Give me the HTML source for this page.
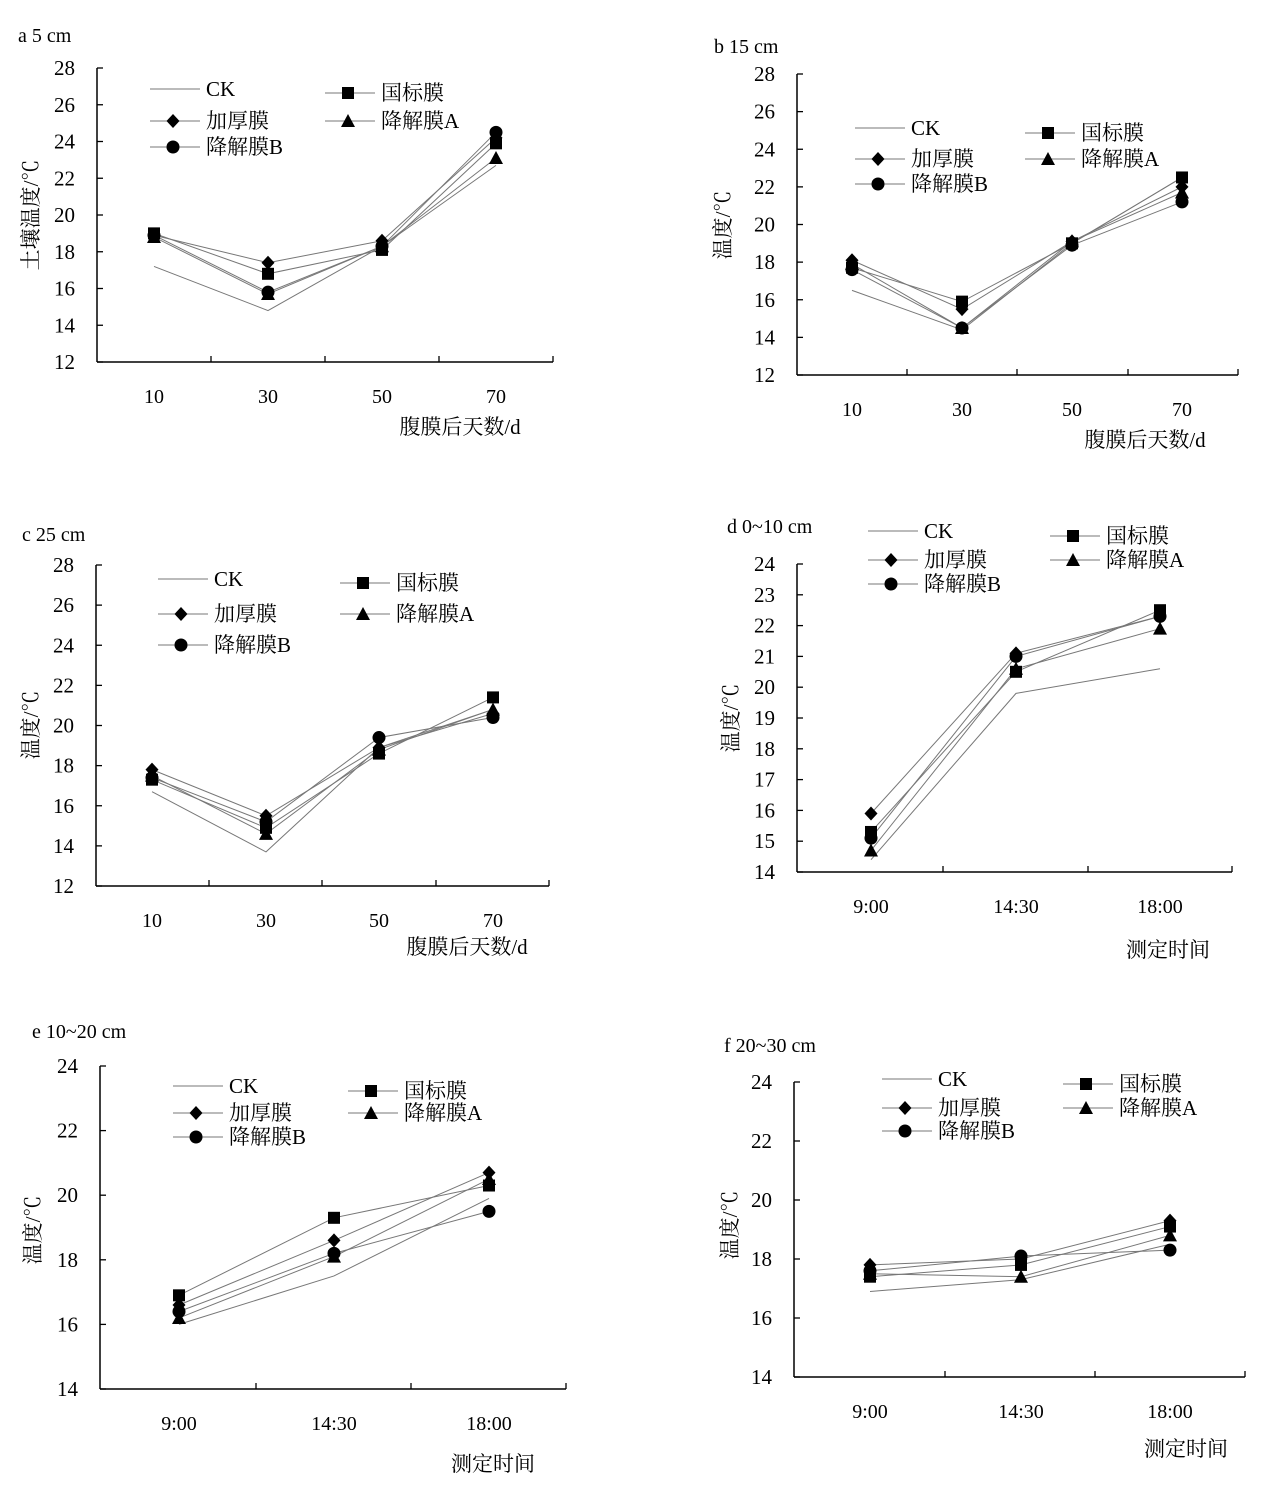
<!DOCTYPE html>
<html><head><meta charset="utf-8"><style>
body{margin:0;background:#fff}
svg{display:block;font-family:"Liberation Serif","Noto Serif CJK SC",serif}
</style></head><body>
<svg id="s" width="1270" height="1495" xmlns="http://www.w3.org/2000/svg"></svg>
<script>
const S=document.getElementById('s');let h='';
function t(x,y,s,sz,anchor,rot){h+=`<text x="${x}" y="${y}" font-size="${sz||19}" text-anchor="${anchor||'start'}"${rot?` transform="rotate(-90 ${x} ${y})"`:''}>${s}</text>`;}
function mk(type,x,y){const r=6.5;
 if(type==1)h+=`<rect x="${x-6}" y="${y-6}" width="12" height="12" fill="#000"/>`;
 else if(type==2)h+=`<polygon points="${x},${y-7} ${x+6.5},${y} ${x},${y+7} ${x-6.5},${y}" fill="#000"/>`;
 else if(type==3)h+=`<polygon points="${x},${y-7} ${x+7},${y+6} ${x-7},${y+6}" fill="#000"/>`;
 else if(type==4)h+=`<circle cx="${x}" cy="${y}" r="${r}" fill="#000"/>`;}
const names=['CK','国标膜','加厚膜','降解膜A','降解膜B'];
function panel(p){
 const Y=v=>p.y0+(v-p.vmin)/(p.vmax-p.vmin)*(p.y1-p.y0);
 h+=`<line x1="${p.ax}" y1="${p.y0}" x2="${p.ax}" y2="${p.y1}" stroke="#000" stroke-width="1.5"/>`;
 h+=`<line x1="${p.ax}" y1="${p.y0}" x2="${p.xe}" y2="${p.y0}" stroke="#000" stroke-width="1.5"/>`;
 for(let v=p.vmin;v<=p.vmax;v+=p.step){const y=Y(v);h+=`<line x1="${p.ax}" y1="${y}" x2="${p.ax+6}" y2="${y}" stroke="#000" stroke-width="1.3"/>`;t(p.ax-22,y+7,v,21,'end');}
 p.ticks.forEach(x=>h+=`<line x1="${x}" y1="${p.y0}" x2="${x}" y2="${p.y0-6}" stroke="#000" stroke-width="1.3"/>`);
 p.cats.forEach((c,i)=>t(p.cx[i],p.y0+41,c,20,'middle'));
 t(p.title[0],p.title[1],p.title[2],20);
 t(p.xl[0],p.xl[1],p.xl[2],21,'middle');
 t(p.yl[0],p.yl[1],p.yl[2],21,'middle',true);
 p.data.forEach((d,k)=>{h+=`<polyline points="${d.map((v,i)=>p.cx[i]+','+Y(v)).join(' ')}" fill="none" stroke="#777" stroke-width="1"/>`;});
 p.data.forEach((d,k)=>{if(k)d.forEach((v,i)=>mk(k,p.cx[i],Y(v)));});
 const L=p.leg;const pos=[[L.x1,L.r1],[L.x2,L.r1+L.d],[L.x1,L.r2],[L.x2,L.r2],[L.x1,L.r3]];
 pos.forEach((q,k)=>{h+=`<line x1="${q[0]}" y1="${q[1]}" x2="${q[0]+50}" y2="${q[1]}" stroke="#777"/>`;if(k)mk(k,q[0]+23,q[1]);t(q[0]+56,q[1]+7,names[k],21);});
}
panel({ax:97,y0:362,y1:68,vmin:12,vmax:28,step:2,xe:553,ticks:[211,325,439,553],cx:[154,268,382,496],cats:[10,30,50,70],
 title:[18,42,'a 5 cm'],xl:[460,434,'腹膜后天数/d'],yl:[38,215,'土壤温度/℃'],
 leg:{x1:150,x2:325,r1:89,d:4,r2:121,r3:147},
 data:[[17.2,14.8,18.3,22.7],[19.0,16.8,18.1,23.9],[18.9,17.4,18.6,24.2],[18.8,15.7,18.3,23.1],[18.9,15.8,18.3,24.5]]});
panel({ax:797,y0:375,y1:74,vmin:12,vmax:28,step:2,xe:1238,ticks:[907,1017,1128,1238],cx:[852,962,1072,1182],cats:[10,30,50,70],
 title:[714,53,'b 15 cm'],xl:[1145,447,'腹膜后天数/d'],yl:[730,225,'温度/℃'],
 leg:{x1:855,x2:1025,r1:128,d:5,r2:159,r3:184},
 data:[[16.5,14.4,19.0,22.5],[17.7,15.9,19.0,22.5],[18.1,15.5,19.1,22.0],[17.9,14.5,19.1,21.7],[17.6,14.5,18.9,21.2]]});
panel({ax:96,y0:886,y1:565,vmin:12,vmax:28,step:2,xe:549,ticks:[209,322,436,549],cx:[152,266,379,493],cats:[10,30,50,70],
 title:[22,541,'c 25 cm'],xl:[467,954,'腹膜后天数/d'],yl:[38,725,'温度/℃'],
 leg:{x1:158,x2:340,r1:579,d:4,r2:614,r3:645},
 data:[[16.7,13.7,18.9,20.8],[17.3,14.9,18.6,21.4],[17.8,15.5,18.9,20.6],[17.5,14.6,18.8,20.8],[17.4,15.2,19.4,20.4]]});
panel({ax:797,y0:872,y1:564,vmin:14,vmax:24,step:1,xe:1232,ticks:[943,1088,1232],cx:[871,1016,1160],cats:['9:00','14:30','18:00'],
 title:[727,533,'d 0~10 cm'],xl:[1168,957,'测定时间'],yl:[738,718,'温度/℃'],
 leg:{x1:868,x2:1050,r1:531,d:5,r2:560,r3:584},
 data:[[14.4,19.8,20.6],[15.3,20.5,22.5],[15.9,21.1,22.3],[14.7,20.6,21.9],[15.1,21.0,22.3]]});
panel({ax:100,y0:1389,y1:1066,vmin:14,vmax:24,step:2,xe:566,ticks:[256,411,566],cx:[179,334,489],cats:['9:00','14:30','18:00'],
 title:[32,1038,'e 10~20 cm'],xl:[493,1471,'测定时间'],yl:[40,1230,'温度/℃'],
 leg:{x1:173,x2:348,r1:1086,d:5,r2:1113,r3:1137},
 data:[[16.0,17.5,19.9],[16.9,19.3,20.3],[16.6,18.6,20.7],[16.2,18.1,20.5],[16.4,18.2,19.5]]});
panel({ax:794,y0:1377,y1:1082,vmin:14,vmax:24,step:2,xe:1245,ticks:[945,1095,1245],cx:[870,1021,1170],cats:['9:00','14:30','18:00'],
 title:[724,1052,'f 20~30 cm'],xl:[1186,1456,'测定时间'],yl:[737,1225,'温度/℃'],
 leg:{x1:882,x2:1063,r1:1079,d:5,r2:1108,r3:1131},
 data:[[16.9,17.3,18.5],[17.4,17.8,19.1],[17.8,18.0,19.3],[17.5,17.4,18.8],[17.6,18.1,18.3]]});
S.innerHTML=h;
</script>
</body></html>
